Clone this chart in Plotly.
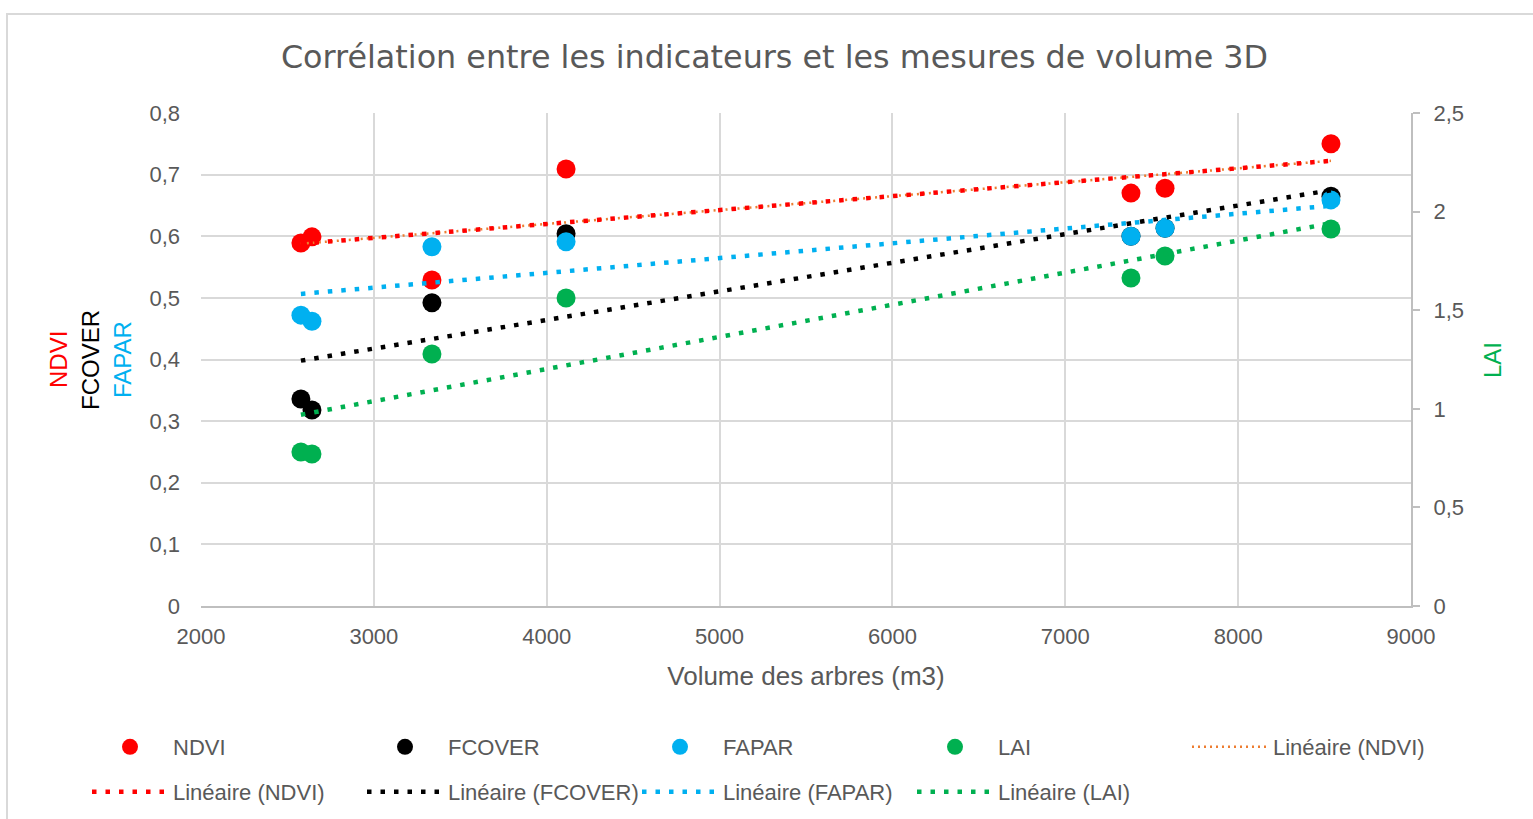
import numpy as np
import plotly.graph_objects as go

# ---- data ----
volume = [2578, 2642, 3336, 4112, 7380, 7577, 8537]
ndvi = [0.589, 0.599, 0.529, 0.709, 0.670, 0.678, 0.750]
fcover = [0.336, 0.318, 0.492, 0.604, 0.600, 0.613, 0.665]
fapar = [0.472, 0.462, 0.583, 0.591, 0.600, 0.613, 0.659]
lai = [0.781, 0.771, 1.278, 1.562, 1.663, 1.775, 1.912]

x_ticks = [2000, 3000, 4000, 5000, 6000, 7000, 8000, 9000]
y_ticks = [0, 0.1, 0.2, 0.3, 0.4, 0.5, 0.6, 0.7, 0.8]
y2_ticks = [0, 0.5, 1, 1.5, 2, 2.5]

title = "Corrélation entre les indicateurs et les mesures de volume 3D"
x_title = "Volume des arbres (m3)"

RED = "#FF0000"
BLACK = "#000000"
BLUE = "#00B0F0"
GREEN = "#00B050"
ORANGE = "#ED7D31"
GRAY_TXT = "#595959"
FONT = "Liberation Sans, Arial, sans-serif"

W, H = 1533, 819
L, R, T, B = 201, 1411, 113, 606


def px(xp):
    return (xp - L) / (R - L)


def py(yp):
    return (B - yp) / (B - T)


def trend(xs, ys):
    a, b = np.polyfit(xs, ys, 1)
    xe = np.array([min(xs), max(xs)], dtype=float)
    return xe, a * xe + b


fig = go.Figure()

# markers
for name, ys, col, ax in [("NDVI", ndvi, RED, "y"), ("FCOVER", fcover, BLACK, "y"),
                          ("FAPAR", fapar, BLUE, "y"), ("LAI", lai, GREEN, "y2")]:
    fig.add_trace(go.Scatter(x=volume, y=ys, mode="markers", name=name, yaxis=ax,
                             marker=dict(size=19, color=col, line=dict(width=0)),
                             legend="legend"))

# orange trendline (NDVI) under the red one
xe, ye = trend(volume, ndvi)
fig.add_trace(go.Scatter(x=xe, y=ye, mode="lines", name="Linéaire (NDVI)",
                         line=dict(color=ORANGE, width=2.5, dash="2px,4px"),
                         legend="legend"))

for name, ys, col, ax in [("Linéaire (NDVI)", ndvi, RED, "y"),
                          ("Linéaire (FCOVER)", fcover, BLACK, "y"),
                          ("Linéaire (FAPAR)", fapar, BLUE, "y"),
                          ("Linéaire (LAI)", lai, GREEN, "y2")]:
    xe, ye = trend(volume, ys)
    fig.add_trace(go.Scatter(x=xe, y=ye, mode="lines", name=name, yaxis=ax,
                             line=dict(color=col, width=4.5, dash="4.5px,9px"),
                             legend="legend2"))

ITEMW = 76
legend_common = dict(orientation="h", xanchor="left", yanchor="middle",
                     font=dict(family=FONT, size=22, color=GRAY_TXT),
                     itemwidth=ITEMW,
                     entrywidth=275 - (ITEMW + 10) - 5, entrywidthmode="pixels",
                     bgcolor="rgba(0,0,0,0)", traceorder="normal")

fig.update_layout(
    width=W, height=H,
    margin=dict(l=L, r=W - R, t=T, b=H - B, autoexpand=False),
    paper_bgcolor="white", plot_bgcolor="white",
    separators=", ",
    font=dict(family=FONT, size=22, color=GRAY_TXT),
    title=dict(text=title, x=774.5 / W, xanchor="center", y=1 - 57 / H, yanchor="middle",
               font=dict(family="DejaVu Sans, sans-serif", size=31.8, color=GRAY_TXT)),
    xaxis=dict(range=[2000, 9000], tickvals=x_ticks, showgrid=True, gridcolor="#D9D9D9",
               gridwidth=2, zeroline=False, showline=True, linecolor="#BFBFBF", linewidth=2,
               ticks="", ticklabelstandoff=10,
               tickfont=dict(family=FONT, size=22, color=GRAY_TXT),
               title=dict(text=x_title, standoff=18,
                          font=dict(family=FONT, size=26, color=GRAY_TXT))),
    yaxis=dict(range=[0, 0.8], tickvals=y_ticks, showgrid=True, gridcolor="#D9D9D9",
               gridwidth=2, zeroline=False, showline=False, ticks="",
               ticklabelstandoff=20,
               tickfont=dict(family=FONT, size=22, color=GRAY_TXT)),
    yaxis2=dict(range=[0, 2.5], tickvals=y2_ticks, overlaying="y", side="right",
                showgrid=False, zeroline=False, showline=True, linecolor="#BFBFBF",
                linewidth=2, ticks="outside", ticklen=7, tickwidth=2, tickcolor="#BFBFBF",
                ticklabelstandoff=9,
                tickfont=dict(family=FONT, size=22, color=GRAY_TXT)),
    legend=dict(x=px(87), y=py(747), **legend_common),
    legend2=dict(x=px(87), y=py(792), **legend_common),
    showlegend=True,
)

# multi-coloured left axis titles and right axis title
for txt, col, xp in [("NDVI", RED, 58), ("FCOVER", BLACK, 90), ("FAPAR", BLUE, 122)]:
    fig.add_annotation(text=txt, x=px(xp), y=py(360), xref="paper", yref="paper",
                       textangle=-90, showarrow=False, xanchor="center", yanchor="middle",
                       font=dict(family=FONT, size=24, color=col))
fig.add_annotation(text="LAI", x=px(1492), y=py(360), xref="paper", yref="paper",
                   textangle=-90, showarrow=False, xanchor="center", yanchor="middle",
                   font=dict(family=FONT, size=24, color=GREEN))

# outer chart border
fig.add_shape(type="rect", xref="paper", yref="paper",
              x0=px(7), x1=px(1560), y0=py(840), y1=py(14),
              line=dict(color="#D9D9D9", width=2), fillcolor="rgba(0,0,0,0)", layer="below")

fig.write_html("out.html", config={"displayModeBar": False},
               post_script="document.body.style.margin='0px';")
